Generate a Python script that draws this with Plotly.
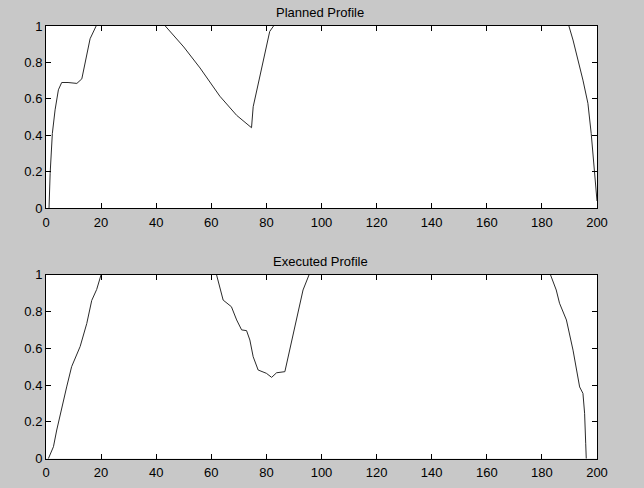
import plotly.graph_objects as go

# Planned profile (segments separated by None where the curve runs along the top border)
planned_x = [1.1, 1.5, 2.3, 3.3, 4.5, 5.7, 8.0, 11.2, 13.0, 14.2, 16.0, 18.2, None,
             43.3, 50.0, 55.9, 61.9, 63.1, 69.2, 74.6, 75.2, 79.4, 81.2, 82.6, None,
             189.8, 191.3, 194.9, 196.7, 197.9, 199.1, 199.7, 200.0]
planned_y = [0.0, 0.19, 0.41, 0.54, 0.65, 0.69, 0.69, 0.685, 0.71, 0.80, 0.93, 1.0, None,
             1.0, 0.885, 0.77, 0.64, 0.615, 0.51, 0.442, 0.557, 0.85, 0.97, 1.0, None,
             1.0, 0.923, 0.703, 0.576, 0.41, 0.19, 0.06, 0.04]

# Executed profile
executed_x = [0.85, 2.7, 3.9, 5.7, 7.5, 9.3, 12.4, 14.8, 16.6, 18.4, 20.0, None,
              61.9, 64.3, 67.3, 69.2, 71.0, 72.8, 74.0, 75.2, 77.0, 80.0, 81.9, 83.7, 86.7,
              88.5, 90.9, 93.3, 95.5, None,
              183.1, 185.2, 186.4, 188.9, 191.3, 193.7, 194.9, 195.5, 195.9, 196.1]
executed_y = [0.0, 0.065, 0.156, 0.28, 0.39, 0.50, 0.61, 0.735, 0.86, 0.92, 1.0, None,
              1.0, 0.862, 0.826, 0.754, 0.70, 0.696, 0.645, 0.554, 0.482, 0.464, 0.442, 0.467, 0.473,
              0.59, 0.754, 0.917, 1.0, None,
              1.0, 0.917, 0.845, 0.754, 0.59, 0.39, 0.355, 0.247, 0.084, 0.0]

titles = ["Planned Profile", "Executed Profile"]
x_ticks = [0, 20, 40, 60, 80, 100, 120, 140, 160, 180, 200]
y_ticks = [0, 0.2, 0.4, 0.6, 0.8, 1]
y_ticklabels = ["0", "0.2", "0.4", "0.6", "0.8", "1"]

W, H = 644, 488
x_dom = [46 / W, 597 / W]
top_dom = [1 - 208.3 / H, 1 - 26 / H]
bot_dom = [1 - 458.7 / H, 1 - 274.7 / H]

line_style = dict(color="#2a2a2a", width=1)
fig = go.Figure()
fig.add_trace(go.Scatter(x=planned_x, y=planned_y, mode="lines", line=line_style,
                         xaxis="x", yaxis="y", showlegend=False, connectgaps=False))
fig.add_trace(go.Scatter(x=executed_x, y=executed_y, mode="lines", line=line_style,
                         xaxis="x2", yaxis="y2", showlegend=False, connectgaps=False))

FAM = "Liberation Sans, Arial, sans-serif"
font = dict(family=FAM, size=13, color="#000000")

def xaxis(anchor, dom):
    return dict(domain=x_dom, anchor=anchor, range=[0, 200], tickvals=x_ticks,
                ticks="inside", ticklen=5, tickcolor="#000", mirror="allticks",
                showline=True, linecolor="#000", linewidth=1, showgrid=False,
                zeroline=False, tickfont=font, fixedrange=True, automargin=False,
                ticklabelstandoff=2)

def yaxis(anchor, dom):
    return dict(domain=dom, anchor=anchor, range=[0, 1], tickvals=y_ticks,
                ticktext=y_ticklabels, ticks="inside", ticklen=5, tickcolor="#000",
                mirror="allticks", showline=True, linecolor="#000", linewidth=1,
                showgrid=False, zeroline=False, tickfont=font, fixedrange=True,
                automargin=False)

fig.update_layout(
    width=W, height=H,
    margin=dict(l=0, r=0, t=0, b=0, pad=0, autoexpand=False),
    paper_bgcolor="#c8c8c8", plot_bgcolor="#ffffff",
    xaxis=xaxis("y", top_dom), yaxis=yaxis("x", top_dom),
    xaxis2=xaxis("y2", bot_dom), yaxis2=yaxis("x2", bot_dom),
    annotations=[
        dict(text=titles[0], x=0.497, y=1 - 12 / H, xref="paper", yref="paper",
             yanchor="middle", showarrow=False, font=dict(family=FAM, size=13, color="#000")),
        dict(text=titles[1], x=0.497, y=1 - 261 / H, xref="paper", yref="paper",
             yanchor="middle", showarrow=False, font=dict(family=FAM, size=13, color="#000")),
    ],
)

fig.write_html("out.html")
